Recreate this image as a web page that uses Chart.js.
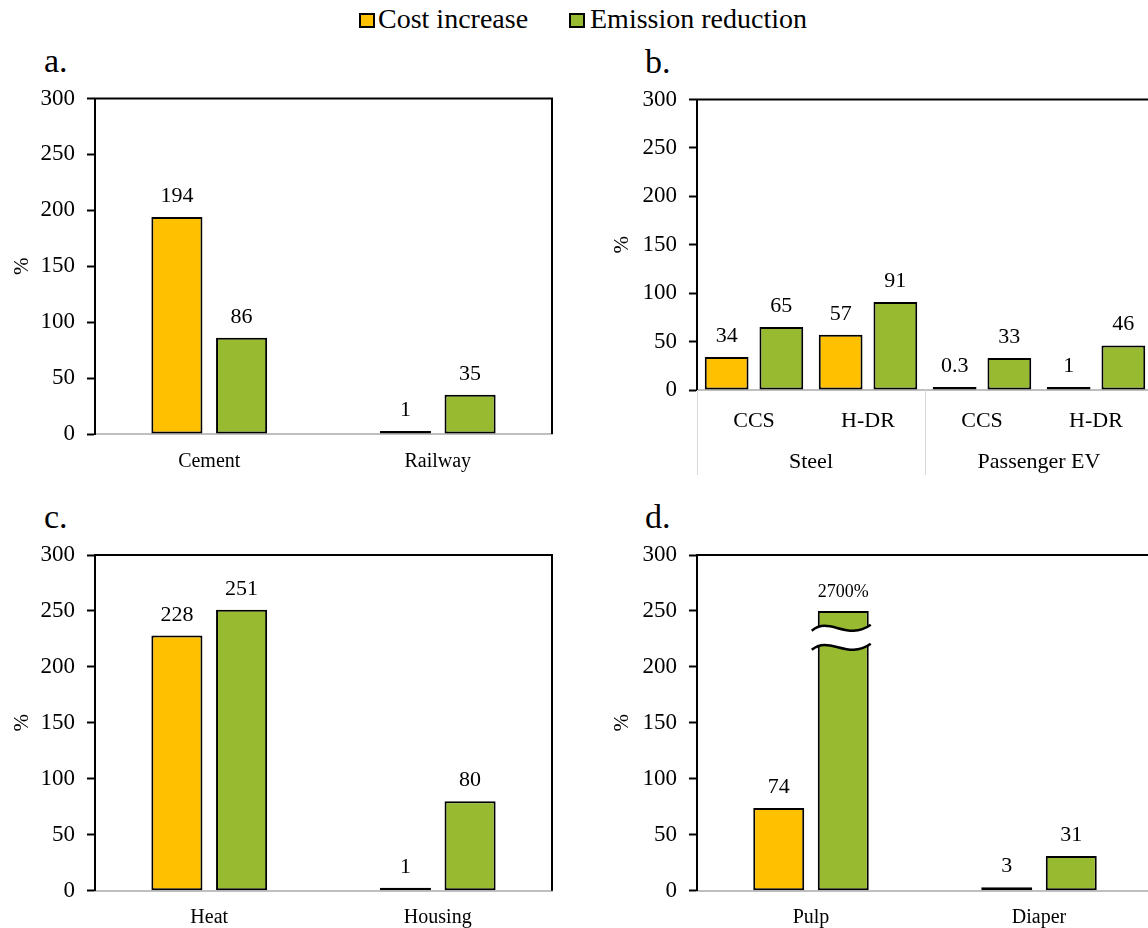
<!DOCTYPE html>
<html lang="en">
<head>
<meta charset="UTF-8">
<title>Cost increase and emission reduction</title>
<script src="https://cdn.jsdelivr.net/npm/chart.js"></script>
<style>
  html, body { margin: 0; padding: 0; background: #fff; }
  body {
    width: 1148px; height: 928px; overflow: hidden; position: relative;
    font-family: 'Liberation Serif', 'Times New Roman', serif; color: #000;
  }
  canvas { position: absolute; }
  .tag { position: absolute; font-size: 34px; line-height: 34px; }
  .key-box { position: absolute; top: 13px; width: 12px; height: 11px; border: 2px solid #000; }
  .key-text { position: absolute; top: 5px; font-size: 28px; line-height: 28px; white-space: nowrap; }
</style>
</head>
<body>
  <!-- legend -->
  <div class="key-box" style="left:359px; background:#FFC000"></div>
  <div class="key-text" style="left:378px">Cost increase</div>
  <div class="key-box" style="left:569px; background:#97BA30"></div>
  <div class="key-text" style="left:590px">Emission reduction</div>

  <div class="tag" style="left:44px; top:44px">a.</div>
  <div class="tag" style="left:645px; top:45px">b.</div>
  <div class="tag" style="left:44px; top:500px">c.</div>
  <div class="tag" style="left:645px; top:500px">d.</div>

  <canvas id="chartA" width="570" height="420" style="left:0; top:60px"></canvas>
  <canvas id="chartB" width="560" height="420" style="left:600px; top:60px"></canvas>
  <canvas id="chartC" width="570" height="413" style="left:0; top:515px"></canvas>
  <canvas id="chartD" width="560" height="413" style="left:600px; top:515px"></canvas>

<script>
// data
const seriesNames = ['Cost increase', 'Emission reduction'];

const catsA = ['Cement', 'Railway'];
const costA = [194, 1];
const emisA = [86, 35];

const catsB = ['CCS', 'H-DR', 'CCS', 'H-DR'];
const groupsB = ['Steel', 'Passenger EV'];
const groupSizesB = [2, 2];
const costB = [34, 57, 0.3, 1];
const emisB = [65, 91, 33, 46];

const catsC = ['Heat', 'Housing'];
const costC = [228, 1];
const emisC = [251, 80];

const catsD = ['Pulp', 'Diaper'];
const costD = [74, 3];
const emisD = [2700, 31];

const yTicks = [0, 50, 100, 150, 200, 250, 300];

const COST_COLOR = '#FFC000';
const EMIS_COLOR = '#97BA30';
// panel d: the pulp bar is cut by an axis break
const BREAK_TOP = 250;
const BREAK_HI = 235, BREAK_LO = 218;

Chart.defaults.font.family = "'Liberation Serif', 'Times New Roman', serif";
Chart.defaults.color = '#000';

// top + right edge of the plot box
const frameBox = {
  id: 'frameBox',
  beforeDatasetsDraw(chart) {
    const { ctx, chartArea: a } = chart;
    ctx.save();
    ctx.strokeStyle = '#000';
    ctx.lineWidth = 2;
    ctx.beginPath();
    ctx.moveTo(a.left - 1, a.top);
    ctx.lineTo(a.right, a.top);
    ctx.lineTo(a.right, a.bottom);
    ctx.stroke();
    ctx.restore();
  }
};

// numbers above the bars
const valueLabels = {
  id: 'valueLabels',
  afterDatasetsDraw(chart) {
    const ctx = chart.ctx;
    ctx.save();
    ctx.fillStyle = '#000';
    ctx.textAlign = 'center';
    ctx.textBaseline = 'alphabetic';
    chart.data.datasets.forEach((ds, di) => {
      const raw = ds.rawValues || ds.data;
      chart.getDatasetMeta(di).data.forEach((bar, i) => {
        const cut = ds.breakAt && raw[i] > ds.breakAt;
        ctx.font = (cut ? 18 : 22) + "px 'Liberation Serif', serif";
        ctx.fillText(cut ? raw[i] + '%' : String(raw[i]), bar.x, bar.y - (cut ? 14 : 15));
      });
    });
    ctx.restore();
  }
};

// wavy break on bars that go off the scale
const axisBreak = {
  id: 'axisBreak',
  afterDatasetsDraw(chart) {
    const ctx = chart.ctx;
    const ys = chart.scales.y;
    chart.data.datasets.forEach((ds, di) => {
      if (!ds.breakAt) return;
      chart.getDatasetMeta(di).data.forEach((bar, i) => {
        if (ds.rawValues[i] <= ds.breakAt) return;
        const y1 = ys.getPixelForValue(BREAK_HI);
        const y2 = ys.getPixelForValue(BREAK_LO);
        const x0 = bar.x - bar.width / 2 - 6;
        const x1 = bar.x + bar.width / 2 + 2;
        const w = x1 - x0;
        ctx.save();
        ctx.fillStyle = '#fff';
        ctx.beginPath();
        ctx.moveTo(x0, y1 + 3);
        ctx.bezierCurveTo(x0 + 0.3 * w, y1 - 12, x0 + 0.6 * w, y1 + 14, x1, y1 - 3);
        ctx.lineTo(x1, y2 - 3);
        ctx.bezierCurveTo(x0 + 0.6 * w, y2 + 14, x0 + 0.3 * w, y2 - 12, x0, y2 + 3);
        ctx.closePath();
        ctx.fill();
        ctx.strokeStyle = '#000';
        ctx.lineWidth = 2.5;
        [y1, y2].forEach(y => {
          ctx.beginPath();
          ctx.moveTo(x0, y + 3);
          ctx.bezierCurveTo(x0 + 0.3 * w, y - 12, x0 + 0.6 * w, y + 14, x1, y - 3);
          ctx.stroke();
        });
        ctx.restore();
      });
    });
  }
};

// second row of category labels (panel b)
const groupLabels = {
  id: 'groupLabels',
  afterDraw(chart, args, opts) {
    if (!opts.groups) return;
    const { ctx, chartArea } = chart;
    const xs = chart.scales.x;
    const catW = xs.getPixelForValue(1) - xs.getPixelForValue(0);
    const y0 = chartArea.bottom;
    let start = 0;
    ctx.save();
    ctx.strokeStyle = '#D9D9D9';
    ctx.lineWidth = 1;
    ctx.fillStyle = '#000';
    ctx.font = "22px 'Liberation Serif', serif";
    ctx.textAlign = 'center';
    ctx.textBaseline = 'middle';
    opts.groups.forEach((g, k) => {
      const n = opts.sizes[k];
      const left = xs.getPixelForValue(start) - catW / 2;
      const right = xs.getPixelForValue(start + n - 1) + catW / 2;
      [left, right].forEach(x => {
        ctx.beginPath();
        ctx.moveTo(Math.round(x) + 0.5, y0);
        ctx.lineTo(Math.round(x) + 0.5, y0 + 85);
        ctx.stroke();
      });
      ctx.fillText(g, (left + right) / 2, y0 + 72);
      start += n;
    });
    ctx.restore();
  }
};

function buildChart(id, p) {
  const ctx = document.getElementById(id).getContext('2d');
  const barStyle = {
    borderColor: '#000',
    borderWidth: 2,
    borderSkipped: false,
    minBarLength: 3,
    categoryPercentage: p.catPct,
    barPercentage: p.barPct
  };
  const emisShown = p.breakAt ? p.emis.map(v => Math.min(v, p.breakAt)) : p.emis;
  return new Chart(ctx, {
    type: 'bar',
    data: {
      labels: p.cats,
      datasets: [
        Object.assign({ label: seriesNames[0], data: p.cost, backgroundColor: COST_COLOR }, barStyle),
        Object.assign({
          label: seriesNames[1],
          data: emisShown,
          rawValues: p.emis,
          breakAt: p.breakAt || null,
          backgroundColor: EMIS_COLOR
        }, barStyle)
      ]
    },
    options: {
      responsive: false,
      animation: false,
      events: [],
      layout: { padding: { top: p.padTop, right: p.padRight, left: 0, bottom: 0 } },
      plugins: {
        legend: { display: false },
        tooltip: { enabled: false },
        groupLabels: p.groups ? { groups: p.groups, sizes: p.groupSizes } : {}
      },
      scales: {
        x: {
          grid: { display: false },
          border: { color: '#BFBFBF', width: 2 },
          ticks: { font: { size: p.catFont }, padding: p.catPad, color: '#000', maxRotation: 0, autoSkip: false },
          afterFit: s => { s.height = p.xHeight; }
        },
        y: {
          min: 0,
          max: 300,
          afterBuildTicks: s => { s.ticks = yTicks.map(v => ({ value: v })); },
          grid: { drawOnChartArea: false, tickLength: 8, tickColor: '#000', tickWidth: 2 },
          border: { color: '#000', width: 2 },
          ticks: { font: { size: 23 }, padding: 12, color: '#000' },
          title: { display: true, text: '%', font: { size: 21 }, padding: { top: 10, bottom: 0 } },
          afterFit: s => { s.width = p.yWidth; }
        }
      }
    },
    plugins: [frameBox, valueLabels, axisBreak, groupLabels]
  });
}

const narrowBars = { catPct: 0.566, barPct: 0.79, catFont: 20 };

buildChart('chartA', Object.assign({
  cats: catsA, cost: costA, emis: emisA, catPad: 8,
  padTop: 38.5, padRight: 18, yWidth: 95, xHeight: 46
}, narrowBars));

buildChart('chartB', {
  cats: catsB, cost: costB, emis: emisB,
  groups: groupsB, groupSizes: groupSizesB,
  catPct: 0.96, barPct: 0.8, catFont: 22, catPad: 10,
  padTop: 39.5, padRight: 7, yWidth: 97, xHeight: 90
});

buildChart('chartC', Object.assign({
  cats: catsC, cost: costC, emis: emisC, catPad: 7,
  padTop: 40, padRight: 18, yWidth: 95, xHeight: 37.3
}, narrowBars));

buildChart('chartD', Object.assign({
  cats: catsD, cost: costD, emis: emisD, catPad: 7, breakAt: BREAK_TOP,
  padTop: 40, padRight: 7, yWidth: 97, xHeight: 37.3
}, narrowBars));
</script>
</body>
</html>
